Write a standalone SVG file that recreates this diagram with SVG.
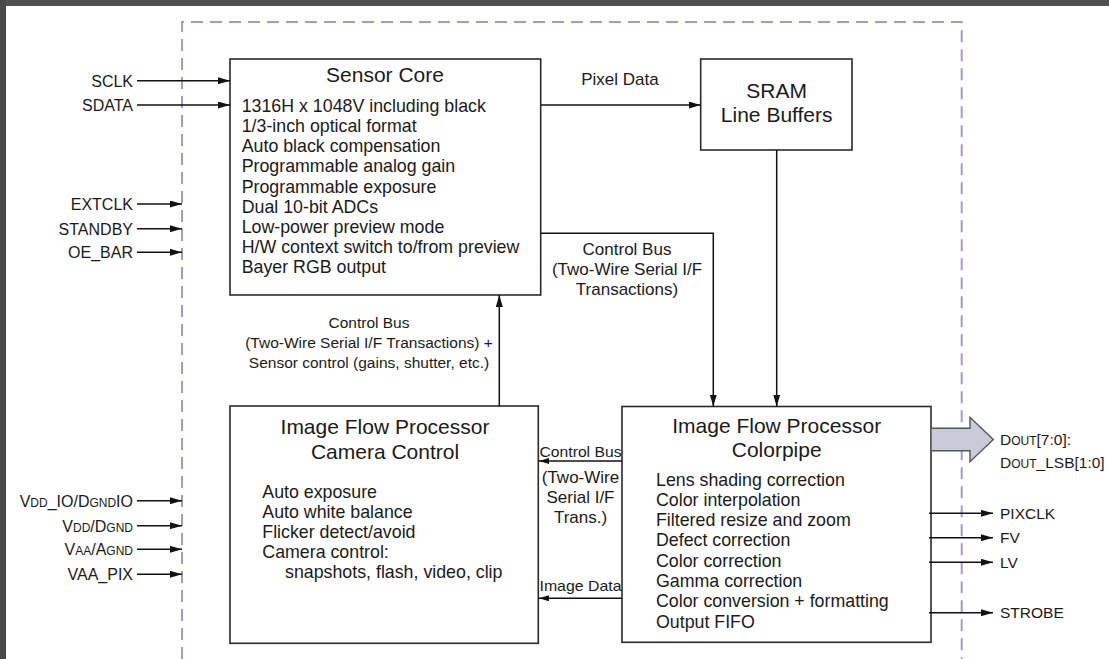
<svg xmlns="http://www.w3.org/2000/svg" width="1109" height="659" viewBox="0 0 1109 659">
<style>
text{font-family:"Liberation Sans",Arial,sans-serif;fill:#1a1a1a}
.box{fill:#fff;stroke:#2a2a2a;stroke-width:1.6}
.ttl{font-size:21px;text-anchor:middle}
.body{font-size:17.8px}
.pin{font-size:16px;text-anchor:end}
.out{font-size:15.5px}
.lbl{font-size:17px;text-anchor:middle}
.lbl2{font-size:15.5px;text-anchor:middle}
.sm{font-size:15px}
.sc{font-size:12px}
.wire{fill:none;stroke:#111;stroke-width:1.5}
</style>
<defs>
<marker id="ah" viewBox="0 0 12 7" refX="12" refY="3.5" markerWidth="12" markerHeight="7" markerUnits="userSpaceOnUse" orient="auto">
<path d="M0,0 L12,3.5 L0,7 z" fill="#111"/>
</marker>
<marker id="ahs" viewBox="0 0 10 6" refX="10" refY="3" markerWidth="10" markerHeight="6" markerUnits="userSpaceOnUse" orient="auto">
<path d="M0,0 L10,3 L0,6 z" fill="#111"/>
</marker>
</defs>
<rect x="0" y="0" width="1109" height="659" fill="#fff"/>
<rect x="0" y="0" width="1109" height="6" fill="#505050"/>
<rect x="0" y="0" width="6" height="659" fill="#4a4a4a"/>
<g id="boundary">
<path d="M182,659 V22 H961.7 V659" fill="none" stroke="#a597d2" stroke-width="2" stroke-dasharray="12 7"/>
</g>
<g id="sensor-core">
<rect class="box" x="230" y="59" width="310.7" height="236"/>
<text class="ttl" x="385" y="82" font-size="20.5">Sensor Core</text>
<text class="body" x="241.7" y="111.7">1316H x 1048V including black</text>
<text class="body" x="241.7" y="131.9">1/3-inch optical format</text>
<text class="body" x="241.7" y="152.1">Auto black compensation</text>
<text class="body" x="241.7" y="172.3">Programmable analog gain</text>
<text class="body" x="241.7" y="192.5">Programmable exposure</text>
<text class="body" x="241.7" y="212.7">Dual 10-bit ADCs</text>
<text class="body" x="241.7" y="232.9">Low-power preview mode</text>
<text class="body" x="241.7" y="253.1">H/W context switch to/from preview</text>
<text class="body" x="241.7" y="273.3">Bayer RGB output</text>
</g>
<g id="sram">
<rect class="box" x="700.7" y="59" width="151.3" height="91"/>
<text class="ttl" x="776.7" y="98" font-size="21.5">SRAM</text>
<text class="ttl" x="776.7" y="121.7" font-size="21.5">Line Buffers</text>
</g>
<g id="camera-control">
<rect class="box" x="230" y="406" width="308.3" height="237.3"/>
<text class="ttl" x="385" y="434">Image Flow Processor</text>
<text class="ttl" x="385" y="459">Camera Control</text>
<text class="body" x="262.3" y="498.3">Auto exposure</text>
<text class="body" x="262.3" y="518">Auto white balance</text>
<text class="body" x="262.3" y="537.7">Flicker detect/avoid</text>
<text class="body" x="262.3" y="557.7">Camera control:</text>
<text class="body" x="285" y="577.7">snapshots, flash, video, clip</text>
</g>
<g id="colorpipe">
<rect class="box" x="622" y="406.5" width="309" height="235.8"/>
<text class="ttl" x="776.7" y="433.3">Image Flow Processor</text>
<text class="ttl" x="776.7" y="456.7">Colorpipe</text>
<text class="body" x="656" y="485.5">Lens shading correction</text>
<text class="body" x="656" y="505.8">Color interpolation</text>
<text class="body" x="656" y="526.1">Filtered resize and zoom</text>
<text class="body" x="656" y="546.4">Defect correction</text>
<text class="body" x="656" y="566.7">Color correction</text>
<text class="body" x="656" y="587">Gamma correction</text>
<text class="body" x="656" y="607.3">Color conversion + formatting</text>
<text class="body" x="656" y="627.6">Output FIFO</text>
</g>
<g id="connectors">
<path class="wire" d="M137,80.7 H230" marker-end="url(#ah)"/>
<path class="wire" d="M137,105 H230" marker-end="url(#ah)"/>
<path class="wire" d="M137,204 H182" marker-end="url(#ah)"/>
<path class="wire" d="M137,228.7 H182" marker-end="url(#ah)"/>
<path class="wire" d="M137,252.3 H182" marker-end="url(#ah)"/>
<path class="wire" d="M137,500.7 H182" marker-end="url(#ah)"/>
<path class="wire" d="M137,525.7 H182" marker-end="url(#ah)"/>
<path class="wire" d="M137,549.3 H182" marker-end="url(#ah)"/>
<path class="wire" d="M137,574.3 H182" marker-end="url(#ah)"/>
<path class="wire" d="M541,105 H700.7" marker-end="url(#ah)"/>
<path class="wire" d="M541,233.3 H713.3 V406.5" marker-end="url(#ah)"/>
<path class="wire" d="M776.7,150 V406.5" marker-end="url(#ah)"/>
<path class="wire" d="M499.3,406 V295" marker-end="url(#ah)"/>
<path class="wire" d="M622,461 H539" marker-end="url(#ahs)"/>
<path class="wire" d="M622,598.3 H539" marker-end="url(#ahs)"/>
<path class="wire" d="M929,513.3 H993" marker-end="url(#ah)"/>
<path class="wire" d="M929,537.7 H993" marker-end="url(#ah)"/>
<path class="wire" d="M929,562.3 H993" marker-end="url(#ah)"/>
<path class="wire" d="M929,612.7 H993" marker-end="url(#ah)"/>
<polygon points="931,428.3 970,428.3 970,417.3 993.3,439.5 970,461.7 970,450.7 931,450.7" fill="#c9ccd6" stroke="#555" stroke-width="1.4"/>
</g>
<g id="labels">
<text class="pin" x="133" y="87">SCLK</text>
<text class="pin" x="133" y="111">SDATA</text>
<text class="pin" x="133" y="210">EXTCLK</text>
<text class="pin" x="133" y="234.5">STANDBY</text>
<text class="pin" x="133" y="258">OE_BAR</text>
<text class="pin" x="133" y="506.5">V<tspan class="sc">DD</tspan>_IO/D<tspan class="sc">GND</tspan>IO</text>
<text class="pin" x="133" y="531.5">V<tspan class="sc">DD</tspan>/D<tspan class="sc">GND</tspan></text>
<text class="pin" x="133" y="555">V<tspan class="sc">AA</tspan>/A<tspan class="sc">GND</tspan></text>
<text class="pin" x="133" y="580">VAA_PIX</text>
<text class="lbl" x="620" y="85">Pixel Data</text>
<text class="lbl" x="627" y="255">Control Bus</text>
<text class="lbl" x="627" y="275">(Two-Wire Serial I/F</text>
<text class="lbl" x="627" y="295">Transactions)</text>
<text class="lbl2" x="369" y="328">Control Bus</text>
<text class="lbl2" x="369" y="348">(Two-Wire Serial I/F Transactions) +</text>
<text class="lbl2" x="369" y="368">Sensor control (gains, shutter, etc.)</text>
<text class="sm" x="539.5" y="456.7" textLength="82" lengthAdjust="spacingAndGlyphs">Control Bus</text>
<text class="lbl" x="580.5" y="482.7">(Two-Wire</text>
<text class="lbl" x="580.5" y="502.7">Serial I/F</text>
<text class="lbl" x="580.5" y="523.3">Trans.)</text>
<text class="sm" x="539.5" y="590.7" textLength="82" lengthAdjust="spacingAndGlyphs">Image Data</text>
<text class="out" x="1000" y="445">D<tspan class="sc">OUT</tspan>[7:0]:</text>
<text class="out" x="1000" y="468.3">D<tspan class="sc">OUT</tspan>_LSB[1:0]</text>
<text class="out" x="1000" y="518.8">PIXCLK</text>
<text class="out" x="1000" y="543.2">FV</text>
<text class="out" x="1000" y="567.8">LV</text>
<text class="out" x="1000" y="618.2">STROBE</text>
</g>
</svg>
